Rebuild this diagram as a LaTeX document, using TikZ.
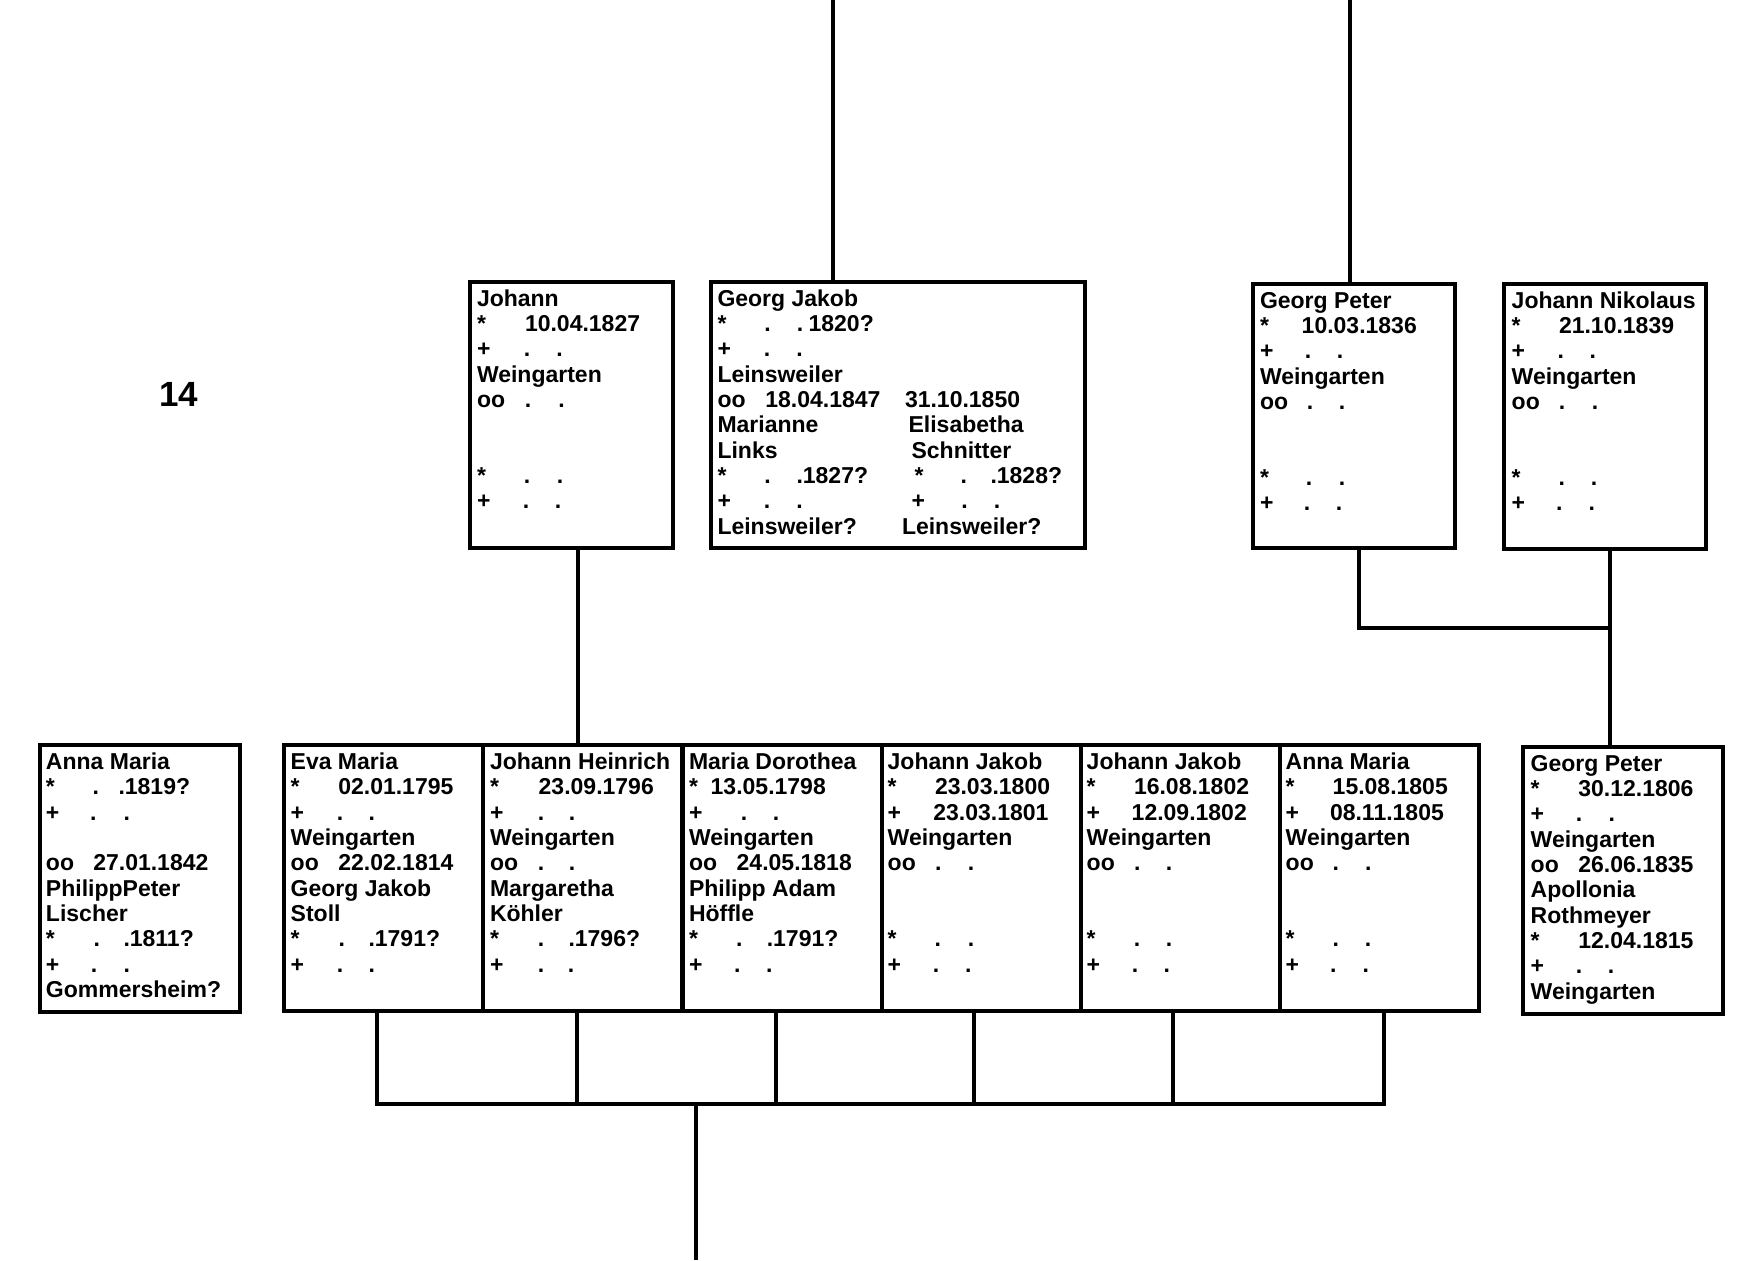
\documentclass[tikz,border=0pt]{standalone}
\usepackage{fontspec}
\setmainfont{Liberation Sans}
\newcounter{tn}
\def\curtop{0}
\newcommand\putT[3]{\stepcounter{tn}\node[txt,anchor=base west] (t\arabic{tn}) at (#1,{\curtop+24+(#2-1)*25.35}) {#3};}
\newcommand\putD[2]{\stepcounter{tn}\node[txt,anchor=base] (t\arabic{tn}) at (#1,{\curtop+24+(#2-1)*25.35}) {.};}
\newcommand\boxnode[5]{\node[famBox,anchor=north west,minimum width={(#4-#2)*0.5pt},minimum height={(#5-#3)*0.5pt}] (#1) at (#2,#3) {};}
\begin{document}
\begin{tikzpicture}[x=0.5pt,y=-0.5pt,
  txt/.style={font=\fontsize{11.5}{12.7}\selectfont\bfseries,inner sep=0pt,outer sep=0pt,text=black},
  famBox/.style={draw=black,line width=2.1pt,inner sep=0pt,outer sep=0pt,rectangle},
  conn/.style={draw=black,line width=2.1pt}]
\useasboundingbox (0,0) rectangle (1762,1260);
\fill[white] (0,0) rectangle (1762,1260);

% ---------- boxes ----------
\boxnode{JO}{470}{282}{673}{548}
\boxnode{GJ}{711}{282}{1085}{548}
\boxnode{GP}{1253}{284}{1455}{548}
\boxnode{JN}{1504}{284}{1706}{549}
\boxnode{AM}{40}{745}{240}{1012}
\boxnode{EM}{284}{745}{483.2}{1011}
\boxnode{JH}{483.2}{745}{682.4}{1011}
\boxnode{MD}{682.4}{745}{881.6}{1011}
\boxnode{JJa}{881.6}{745}{1080.8}{1011}
\boxnode{JJb}{1080.8}{745}{1280}{1011}
\boxnode{AMb}{1280}{745}{1479.2}{1011}
\boxnode{GPb}{1523}{747}{1723}{1014}

% ---------- connectors ----------
\coordinate (topA) at (833,0);
\coordinate (topB) at (1350,0);
\draw[conn] (topA) -- (topA |- GJ.north);
\draw[conn] (topB) -- (topB |- GP.north);
\coordinate (xJO) at (578,0);
\draw[conn] (xJO |- JO.south) -- (xJO |- JH.north);
\coordinate (elb) at (1359,628);
\coordinate (xJN) at (1610,0);
\draw[conn] (elb |- GP.south) -- (elb) -- (xJN |- elb);
\draw[conn] (xJN |- JN.south) -- (xJN |- GPb.north);
\coordinate (bar) at (0,1104.3);
\coordinate (cEM) at (377.3,0);
\coordinate (cJH) at (577.3,0);
\coordinate (cMD) at (775.7,0);
\coordinate (cJJa) at (974.3,0);
\coordinate (cJJb) at (1173.3,0);
\coordinate (cAMb) at (1384.3,0);
\draw[conn] (cEM |- EM.south) -- (cEM |- bar) -- (cAMb |- bar) -- (cAMb |- AMb.south);
\draw[conn] (cJH |- JH.south) -- (cJH |- bar);
\draw[conn] (cMD |- MD.south) -- (cMD |- bar);
\draw[conn] (cJJa |- JJa.south) -- (cJJa |- bar);
\draw[conn] (cJJb |- JJb.south) -- (cJJb |- bar);
\coordinate (down) at (696,1260);
\draw[conn] (down |- bar) -- (down);

% ---------- generation number ----------
\node[font=\fontsize{17.5}{20}\selectfont\bfseries,anchor=base west,inner sep=0pt] (num) at (159,406.7) {14};

% ---------- Johann ----------
\def\curtop{282}
\putT{477}{1}{Johann}
\putT{477}{2}{*}\putT{525}{2}{10.04.1827}
\putT{477}{3}{+}\putD{527}{3}\putD{559.5}{3}
\putT{477}{4}{Weingarten}
\putT{477}{5}{oo}\putD{528}{5}\putD{561.6}{5}
\putT{477}{8}{*}\putD{527}{8}\putD{560}{8}
\putT{477}{9}{+}\putD{526}{9}\putD{558}{9}

% ---------- Georg Jakob ----------
\putT{717.5}{1}{Georg Jakob}
\putT{717.5}{2}{*}\putD{767.5}{2}\putD{800}{2}\putT{808.6}{2}{1820?}
\putT{717.5}{3}{+}\putD{767}{3}\putD{799.5}{3}
\putT{717.5}{4}{Leinsweiler}
\putT{717.5}{5}{oo}\putT{765.4}{5}{18.04.1847}\putT{905}{5}{31.10.1850}
\putT{717.5}{6}{Marianne}\putT{908.6}{6}{Elisabetha}
\putT{717.5}{7}{Links}\putT{911.6}{7}{Schnitter}
\putT{717.5}{8}{*}\putD{767.5}{8}\putT{796.5}{8}{.1827?}\putT{914.5}{8}{*}\putD{963.7}{8}\putT{990.5}{8}{.1828?}
\putT{717.5}{9}{+}\putD{767}{9}\putD{799.5}{9}\putT{911.6}{9}{+}\putD{964.5}{9}\putD{997}{9}
\putT{717.5}{10}{Leinsweiler?}\putT{902}{10}{Leinsweiler?}

% ---------- Georg Peter (1836) ----------
\def\curtop{284}
\putT{1260}{1}{Georg Peter}
\putT{1260}{2}{*}\putT{1301.7}{2}{10.03.1836}
\putT{1260}{3}{+}\putD{1308}{3}\putD{1340}{3}
\putT{1260}{4}{Weingarten}
\putT{1260}{5}{oo}\putD{1310}{5}\putD{1342}{5}
\putT{1260}{8}{*}\putD{1309}{8}\putD{1342}{8}
\putT{1260}{9}{+}\putD{1307}{9}\putD{1339}{9}

% ---------- Johann Nikolaus ----------
\putT{1511.7}{1}{Johann Nikolaus}
\putT{1511.7}{2}{*}\putT{1559}{2}{21.10.1839}
\putT{1511.7}{3}{+}\putD{1560.7}{3}\putD{1592.7}{3}
\putT{1511.7}{4}{Weingarten}
\putT{1511.7}{5}{oo}\putD{1562}{5}\putD{1595}{5}
\putT{1511.7}{8}{*}\putD{1561.7}{8}\putD{1594}{8}
\putT{1511.7}{9}{+}\putD{1559.3}{9}\putD{1591.7}{9}

% ---------- Anna Maria (left) ----------
\def\curtop{745.3}
\putT{46}{1}{Anna Maria}
\putT{46}{2}{*}\putD{95.7}{2}\putT{118.5}{2}{.1819?}
\putT{46}{3}{+}\putD{93.3}{3}\putD{126.7}{3}
\putT{46}{5}{oo}\putT{93.3}{5}{27.01.1842}
\putT{46}{6}{PhilippPeter}
\putT{46}{7}{Lischer}
\putT{46}{8}{*}\putD{96.7}{8}\putT{123.5}{8}{.1811?}
\putT{46}{9}{+}\putD{94}{9}\putD{126.7}{9}
\putT{46}{10}{Gommersheim?}

% ---------- Eva Maria ----------
\putT{290.7}{1}{Eva Maria}
\putT{290.7}{2}{*}\putT{338.3}{2}{02.01.1795}
\putT{290.7}{3}{+}\putD{340}{3}\putD{371.7}{3}
\putT{290.7}{4}{Weingarten}
\putT{290.7}{5}{oo}\putT{338.3}{5}{22.02.1814}
\putT{290.7}{6}{Georg Jakob}
\putT{290.7}{7}{Stoll}
\putT{290.7}{8}{*}\putD{341.7}{8}\putT{368.5}{8}{.1791?}
\putT{290.7}{9}{+}\putD{340}{9}\putD{371.7}{9}

% ---------- Johann Heinrich ----------
\putT{490}{1}{Johann Heinrich}
\putT{490}{2}{*}\putT{538.7}{2}{23.09.1796}
\putT{490}{3}{+}\putD{541}{3}\putD{572}{3}
\putT{490}{4}{Weingarten}
\putT{490}{5}{oo}\putD{541}{5}\putD{572}{5}
\putT{490}{6}{Margaretha}
\putT{490}{7}{Köhler}
\putT{490}{8}{*}\putD{541}{8}\putT{568.5}{8}{.1796?}
\putT{490}{9}{+}\putD{541}{9}\putD{571}{9}

% ---------- Maria Dorothea ----------
\putT{689}{1}{Maria Dorothea}
\putT{689}{2}{*}\putT{710.7}{2}{13.05.1798}
\putT{689}{3}{+}\putD{744}{3}\putD{776}{3}
\putT{689}{4}{Weingarten}
\putT{689}{5}{oo}\putT{736.7}{5}{24.05.1818}
\putT{689}{6}{Philipp Adam}
\putT{689}{7}{Höffle}
\putT{689}{8}{*}\putD{739.3}{8}\putT{766.8}{8}{.1791?}
\putT{689}{9}{+}\putD{737.3}{9}\putD{769.3}{9}

% ---------- Johann Jakob (1800) ----------
\putT{887.7}{1}{Johann Jakob}
\putT{887.7}{2}{*}\putT{935}{2}{23.03.1800}
\putT{887.7}{3}{+}\putT{933.3}{3}{23.03.1801}
\putT{887.7}{4}{Weingarten}
\putT{887.7}{5}{oo}\putD{938.3}{5}\putD{971}{5}
\putT{887.7}{8}{*}\putD{937.7}{8}\putD{971}{8}
\putT{887.7}{9}{+}\putD{936}{9}\putD{968.3}{9}

% ---------- Johann Jakob (1802) ----------
\putT{1086.7}{1}{Johann Jakob}
\putT{1086.7}{2}{*}\putT{1134}{2}{16.08.1802}
\putT{1086.7}{3}{+}\putT{1131.7}{3}{12.09.1802}
\putT{1086.7}{4}{Weingarten}
\putT{1086.7}{5}{oo}\putD{1137.3}{5}\putD{1169}{5}
\putT{1086.7}{8}{*}\putD{1137}{8}\putD{1169}{8}
\putT{1086.7}{9}{+}\putD{1135}{9}\putD{1166.7}{9}

% ---------- Anna Maria (1805) ----------
\putT{1285.7}{1}{Anna Maria}
\putT{1285.7}{2}{*}\putT{1332.7}{2}{15.08.1805}
\putT{1285.7}{3}{+}\putT{1330}{3}{08.11.1805}
\putT{1285.7}{4}{Weingarten}
\putT{1285.7}{5}{oo}\putD{1335.7}{5}\putD{1368.3}{5}
\putT{1285.7}{8}{*}\putD{1335.7}{8}\putD{1368}{8}
\putT{1285.7}{9}{+}\putD{1333.3}{9}\putD{1365.7}{9}

% ---------- Georg Peter (1806) ----------
\def\curtop{747}
\putT{1530.7}{1}{Georg Peter}
\putT{1530.7}{2}{*}\putT{1578.3}{2}{30.12.1806}
\putT{1530.7}{3}{+}\putD{1579}{3}\putD{1611.7}{3}
\putT{1530.7}{4}{Weingarten}
\putT{1530.7}{5}{oo}\putT{1578.3}{5}{26.06.1835}
\putT{1530.7}{6}{Apollonia}
\putT{1530.7}{7}{Rothmeyer}
\putT{1530.7}{8}{*}\putT{1578.3}{8}{12.04.1815}
\putT{1530.7}{9}{+}\putD{1579}{9}\putD{1611}{9}
\putT{1530.7}{10}{Weingarten}
\end{tikzpicture}
\end{document}
